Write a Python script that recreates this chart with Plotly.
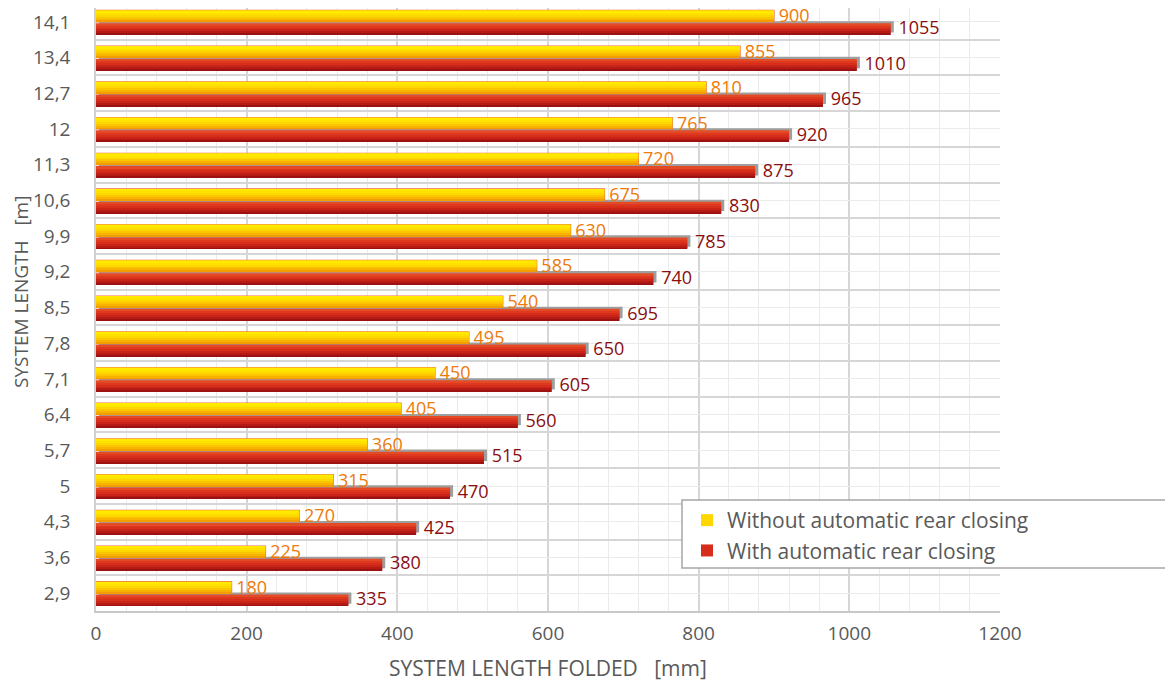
import plotly.graph_objects as go

categories = ["2,9", "3,6", "4,3", "5", "5,7", "6,4", "7,1", "7,8", "8,5",
              "9,2", "9,9", "10,6", "11,3", "12", "12,7", "13,4", "14,1"]
without_auto = [180, 225, 270, 315, 360, 405, 450, 495, 540,
                585, 630, 675, 720, 765, 810, 855, 900]
with_auto = [335, 380, 425, 470, 515, 560, 605, 650, 695,
             740, 785, 830, 875, 920, 965, 1010, 1055]
x_ticks = [0, 200, 400, 600, 800, 1000, 1200]
series_names = ["Without automatic rear closing", "With automatic rear closing"]
x_title = "SYSTEM LENGTH FOLDED\u00a0\u00a0\u00a0[mm]"
y_title = "SYSTEM LENGTH\u00a0\u00a0\u00a0[m]"

pos = list(range(len(categories)))

FONT = "Open Sans"
GREY = "#595959"

# page-pixel geometry of the plot area (page has an 8px body margin)
PL, PR, PT, PB = 96, 1000, 8, 611
PW, PH = PR - PL, PB - PT


def px_x(p):
    return (p - PL) / PW


def px_y(p):
    return (PB - p) / PH


# gradient bands (bottom -> top)
yellow_bands = ["#F29E00", "#F7B300", "#FBC600", "#FED600", "#FFE200", "#FFEA00"]
red_bands = ["#9C1212", "#B51A14", "#C92418", "#D62E1B", "#DE381E", "#E54A26"]

fig = go.Figure()

BAR_H = 0.32
Y_OFF = 0.0
R_OFF = -0.36

# shadow behind red bars
fig.add_trace(go.Bar(
    x=with_auto, y=pos, orientation="h", base=4,
    width=BAR_H, offset=R_OFF + 0.06,
    marker=dict(color="#9E9E9E", line=dict(width=0)),
    showlegend=False, hoverinfo="skip"))

# outline behind yellow bars
fig.add_trace(go.Bar(
    x=without_auto, y=pos, orientation="h", base=0,
    width=BAR_H, offset=Y_OFF,
    marker=dict(color="rgba(0,0,0,0)", line=dict(width=1.2, color="#EE7048")),
    showlegend=False, hoverinfo="skip"))

n = len(red_bands)
h = BAR_H / n
for i, c in enumerate(red_bands):
    fig.add_trace(go.Bar(
        x=with_auto, y=pos, orientation="h",
        width=h * 1.04, offset=R_OFF + i * h,
        marker=dict(color=c, line=dict(width=0)),
        name=series_names[1], legendgroup="red", legendrank=2,
        showlegend=(i == 3), hoverinfo="skip"))

n = len(yellow_bands)
h = BAR_H / n
for i, c in enumerate(yellow_bands):
    fig.add_trace(go.Bar(
        x=without_auto, y=pos, orientation="h",
        width=h * 1.04, offset=Y_OFF + i * h,
        marker=dict(color=c, line=dict(width=0)),
        name=series_names[0], legendgroup="yellow", legendrank=1,
        showlegend=(i == 3), hoverinfo="skip"))

# data labels
fig.add_trace(go.Scatter(
    x=without_auto, y=[p + Y_OFF + BAR_H / 2 - 0.05 for p in pos], mode="text",
    text=["\u00a0" + str(v) for v in without_auto], textposition="middle right",
    textfont=dict(family=FONT, size=18, color="#EE7A0A"),
    showlegend=False, hoverinfo="skip", cliponaxis=False))
fig.add_trace(go.Scatter(
    x=[v + 4 for v in with_auto], y=[p + R_OFF + BAR_H / 2 - 0.01 for p in pos], mode="text",
    text=["\u00a0" + str(v) for v in with_auto], textposition="middle right",
    textfont=dict(family=FONT, size=18, color="#8A0E0E"),
    showlegend=False, hoverinfo="skip", cliponaxis=False))

FIG_W, FIG_H = 1165, 673
y_top = (len(categories) - 0.5) - 4 / 35.7

fig.update_layout(
    width=FIG_W, height=FIG_H,
    margin=dict(l=PL - 8, r=FIG_W - (PR - 8), t=PT - 8, b=FIG_H - (PB - 8), autoexpand=False),
    paper_bgcolor="white", plot_bgcolor="white",
    barmode="overlay",
    font=dict(family=FONT, size=18, color=GREY),
    legend=dict(
        x=px_x(687), y=px_y(500), xanchor="left", yanchor="top",
        bgcolor="rgba(0,0,0,0)", borderwidth=0,
        font=dict(family=FONT, size=21, color=GREY),
        itemsizing="constant", tracegroupgap=0),
    showlegend=True,
    shapes=[dict(
        type="rect", xref="paper", yref="paper",
        x0=px_x(682), x1=px_x(1190),
        y0=px_y(568), y1=px_y(500),
        fillcolor="white", line=dict(color="#A6A6A6", width=1.5),
        layer="above")],
    annotations=[
        dict(text=x_title, xref="paper", yref="paper", x=0.5, y=px_y(668),
             xanchor="center", yanchor="middle", showarrow=False,
             font=dict(family=FONT, size=21, color=GREY)),
        dict(text=y_title, xref="paper", yref="paper", x=px_x(21), y=px_y(292),
             xanchor="center", yanchor="middle", showarrow=False, textangle=-90,
             font=dict(family=FONT, size=19, color=GREY)),
    ],
)

fig.update_xaxes(
    range=[0, 1200], tickvals=x_ticks, ticktext=[str(t) for t in x_ticks],
    showgrid=True, gridcolor="#D6D6D6", gridwidth=1.5,
    minor=dict(dtick=40, tick0=0, showgrid=True, gridcolor="#EBEBEB", gridwidth=1),
    showline=True, linecolor="#C8C8C8", linewidth=1.5,
    zeroline=False, ticks="", ticklabelstandoff=4, automargin=False,
    tickfont=dict(family=FONT, size=19, color=GREY),
)

fig.update_yaxes(
    range=[-0.5, y_top],
    tickvals=pos, ticktext=categories,
    showgrid=True, gridcolor="#EBEBEB", gridwidth=1,
    minor=dict(tick0=0.5, dtick=1, showgrid=True, gridcolor="#D6D6D6", gridwidth=1.5),
    showline=True, linecolor="#D0D0D0", linewidth=1.5,
    zeroline=False, ticks="", ticklabelstandoff=20, automargin=False,
    tickfont=dict(family=FONT, size=19, color=GREY),
)

fig.write_html("out.html")
